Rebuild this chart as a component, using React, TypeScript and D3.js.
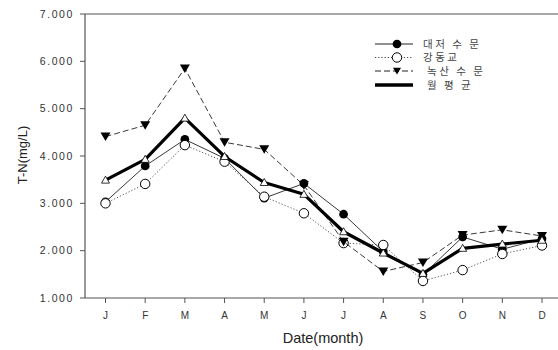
import React, { useRef, useEffect } from "react";
import * as d3 from "d3";

const months = ["J", "F", "M", "A", "M", "J", "J", "A", "S", "O", "N", "D"];
const yTicks = [1, 2, 3, 4, 5, 6, 7];

// T-N (mg/L) per month
const daejeo = [3.03, 3.79, 4.35, 3.95, 3.11, 3.42, 2.77, 1.98, 1.49, 2.29, 2.03, 2.25];
const gangdong = [3.0, 3.41, 4.23, 3.88, 3.14, 2.79, 2.16, 2.12, 1.36, 1.59, 1.93, 2.11];
const noksan = [4.41, 4.65, 5.85, 4.29, 4.14, 3.38, 2.19, 1.56, 1.75, 2.33, 2.44, 2.31];
const monthlyMean = [3.49, 3.93, 4.8, 3.99, 3.44, 3.19, 2.4, 1.95, 1.52, 2.05, 2.14, 2.22];

const seriesNames = ["대저 수 문", "강동교", "녹산 수 문", "월 평 균"];

export default function App() {
  const svgRef = useRef<SVGSVGElement>(null);
  const width = 558;
  const height = 350;

  useEffect(() => {
    const svg = d3.select(svgRef.current);
    svg.selectAll("*").remove();

    const left = 85;
    const top = 14;
    const bottom = 298;
    const axisColor = "#555";
    const font = "'Liberation Sans', Arial, sans-serif";

    const x = d3.scalePoint<number>().domain(d3.range(months.length)).range([105.5, 542]);
    const y = d3.scaleLinear().domain([1, 7]).range([bottom, top]);

    // frame
    svg.append("line").attr("x1", left).attr("x2", width).attr("y1", top).attr("y2", top)
      .attr("stroke", axisColor).attr("stroke-width", 1.2);
    svg.append("line").attr("x1", left).attr("x2", width).attr("y1", bottom).attr("y2", bottom)
      .attr("stroke", axisColor).attr("stroke-width", 1.2);
    svg.append("line").attr("x1", left).attr("x2", left).attr("y1", top).attr("y2", bottom)
      .attr("stroke", axisColor).attr("stroke-width", 1.2);

    // y ticks
    const yt = svg.append("g");
    yt.selectAll("line").data(yTicks).enter().append("line")
      .attr("x1", left - 5).attr("x2", left)
      .attr("y1", (d) => y(d)).attr("y2", (d) => y(d))
      .attr("stroke", axisColor);
    yt.selectAll("text").data(yTicks).enter().append("text")
      .attr("x", 74).attr("y", (d) => y(d)).attr("dy", "0.36em")
      .attr("text-anchor", "end")
      .style("font-family", font).style("font-size", "10.5px")
      .style("letter-spacing", "1.6px").style("fill", "#333")
      .text((d) => d3.format(".3f")(d));

    // x ticks
    const xt = svg.append("g");
    xt.selectAll("line").data(months).enter().append("line")
      .attr("x1", (_, i) => x(i)!).attr("x2", (_, i) => x(i)!)
      .attr("y1", bottom).attr("y2", bottom + 5)
      .attr("stroke", axisColor);
    xt.selectAll("text").data(months).enter().append("text")
      .attr("x", (_, i) => x(i)!).attr("y", 319)
      .attr("text-anchor", "middle")
      .style("font-family", font).style("font-size", "10px").style("fill", "#333")
      .text((d) => d);

    // axis titles
    svg.append("text").attr("x", 323).attr("y", 343).attr("text-anchor", "middle")
      .style("font-family", font).style("font-size", "14.5px").style("fill", "#222")
      .text("Date(month)");
    svg.append("text")
      .attr("transform", `translate(27, 155) rotate(-90)`)
      .attr("text-anchor", "middle")
      .style("font-family", font).style("font-size", "13px").style("fill", "#222")
      .text("T-N(mg/L)");

    const line = d3.line<number>().x((_, i) => x(i)!).y((d) => y(d));

    const styles = [
      { data: daejeo, width: 0.9, dash: null, stroke: "#222" },
      { data: gangdong, width: 0.9, dash: "1.2,2", stroke: "#444" },
      { data: noksan, width: 0.9, dash: "6,3", stroke: "#222" },
      { data: monthlyMean, width: 3.2, dash: null, stroke: "#000" },
    ];

    const circle = d3.symbol().type(d3.symbolCircle).size(60)();
    const openCircle = d3.symbol().type(d3.symbolCircle).size(70)();
    const triDown = `M-5,-4L5,-4L0,4.5Z`;
    const triUp = `M-4,3L4,3L0,-4Z`;

    const drawMarker = (g: any, k: number, px: number, py: number, legend = false) => {
      const m = g.append("path").attr("transform", `translate(${px},${py})${legend && k === 2 ? " scale(0.8)" : ""}`);
      if (k === 0) m.attr("d", circle).attr("fill", "#000");
      if (k === 1) m.attr("d", openCircle).attr("fill", "#fff").attr("stroke", "#000").attr("stroke-width", 1);
      if (k === 2) m.attr("d", triDown).attr("fill", "#000");
      if (k === 3) m.attr("d", triUp).attr("fill", "#fff").attr("stroke", "#000").attr("stroke-width", 0.8);
    };

    styles.forEach((s, k) => {
      const g = svg.append("g");
      g.append("path").datum(s.data)
        .attr("d", line).attr("fill", "none")
        .attr("stroke", s.stroke).attr("stroke-width", s.width)
        .attr("stroke-dasharray", s.dash)
        .attr("stroke-linejoin", "round");
      s.data.forEach((v, i) => drawMarker(g, k, x(i)!, y(v)));
    });

    // legend
    const legendY = [44, 57.5, 71, 85];
    const lg = svg.append("g");
    styles.forEach((s, k) => {
      const ly = legendY[k];
      lg.append("line")
        .attr("x1", 375).attr("x2", 413).attr("y1", ly).attr("y2", ly)
        .attr("stroke", s.stroke).attr("stroke-width", k === 3 ? 3.5 : 1)
        .attr("stroke-dasharray", s.dash);
      if (k < 3) drawMarker(lg, k, 397, ly, true);
      lg.append("text")
        .attr("x", k < 2 ? 423 : 427).attr("y", ly).attr("dy", "0.36em")
        .style("font-family", "'Noto Sans CJK KR', sans-serif")
        .style("font-size", "10.5px").style("fill", "#444")
        .style("letter-spacing", "2.5px")
        .text(seriesNames[k]);
    });
  }, []);

  return (
    <svg
      ref={svgRef}
      width={width}
      height={height}
      style={{ position: "absolute", left: 0, top: 0, background: "#fff" }}
    ></svg>
  );
}
